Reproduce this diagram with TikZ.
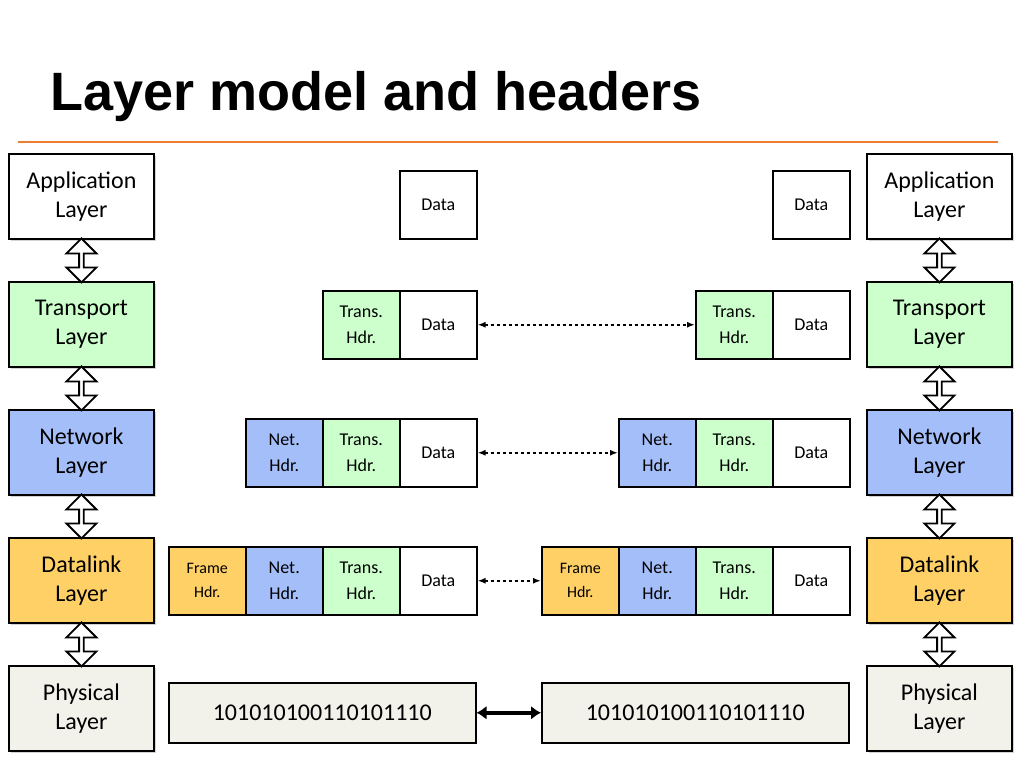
\documentclass[tikz,border=0pt]{standalone}
\usepackage{fontspec}
\setmainfont{Carlito}
\newfontfamily\titlefont{Liberation Sans}
\usetikzlibrary{shapes.arrows,shadows,arrows.meta,calc}
\definecolor{tg}{HTML}{CCFFCC}
\definecolor{nb}{HTML}{A4BEFA}
\definecolor{dy}{HTML}{FFD066}
\definecolor{pg}{HTML}{F2F2EA}
\definecolor{org}{HTML}{ED7D31}
\begin{document}
\begin{tikzpicture}[x=1pt,y=-1pt,
 layer/.style={draw=black,line width=1.8pt,minimum width=145pt,minimum height=85pt,anchor=north west,align=center,font=\fontsize{24}{29}\selectfont,drop shadow={shadow xshift=2pt,shadow yshift=-2pt,opacity=0.35}},
 sb/.style={draw=black,line width=1.5pt,minimum width=77pt,minimum height=68pt,anchor=north west,align=center,font=\fontsize{18}{26}\selectfont,inner sep=0pt},
 bits/.style={draw=black,line width=1.5pt,fill=pg,minimum width=307pt,minimum height=60pt,anchor=north west,font=\fontsize{24}{29}\selectfont},
 da/.style={double arrow,draw=black,line width=1.8pt,fill=white,rotate=90,minimum height=44pt,minimum width=30pt,double arrow head extend=5pt,inner sep=0pt,double arrow tip angle=90},
 dconn/.style={dashed,line width=1.8pt,{Latex[length=8pt]}-{Latex[length=8pt]}}]
\useasboundingbox (0,0) rectangle (1024,768);
\node[anchor=base west,font=\titlefont\bfseries\fontsize{54}{60}\selectfont,inner sep=0pt] (title) at (50,110) {Layer model and headers};
\draw[org,line width=2pt] (18,142) -- (998,142);
% layers
\foreach \s/\x in {L/8,R/866}{
 \node[layer,fill=white] (app\s) at (\x,153) {Application\\Layer};
 \node[layer,fill=tg] (tr\s) at (\x,281) {Transport\\Layer};
 \node[layer,fill=nb] (nw\s) at (\x,409) {Network\\Layer};
 \node[layer,fill=dy] (dl\s) at (\x,537) {Datalink\\Layer};
 \node[layer,fill=pg] (ph\s) at (\x,665) {Physical\\Layer};
 \node[da] (a1\s) at ($(app\s.south)!0.5!(tr\s.north)$) {};
 \node[da] (a2\s) at ($(tr\s.south)!0.5!(nw\s.north)$) {};
 \node[da] (a3\s) at ($(nw\s.south)!0.5!(dl\s.north)$) {};
 \node[da] (a4\s) at ($(dl\s.south)!0.5!(ph\s.north)$) {};
}
% data boxes
\foreach \s/\o in {L/0,R/373}{
 \node[sb] (d1\s) at (399+\o,170) {Data};
 \node[sb,fill=tg] (t2\s) at (322+\o,290) {Trans.\\Hdr.};
 \node[sb] (d2\s) at (399+\o,290) {Data};
 \node[sb,fill=nb] (n3\s) at (245+\o,418) {Net.\\Hdr.};
 \node[sb,fill=tg] (t3\s) at (322+\o,418) {Trans.\\Hdr.};
 \node[sb] (d3\s) at (399+\o,418) {Data};
 \node[sb,fill=dy,font=\fontsize{16}{24}\selectfont] (f4\s) at (168+\o,546) {Frame\\Hdr.};
 \node[sb,fill=nb] (n4\s) at (245+\o,546) {Net.\\Hdr.};
 \node[sb,fill=tg] (t4\s) at (322+\o,546) {Trans.\\Hdr.};
 \node[sb] (d4\s) at (399+\o,546) {Data};
 \node[bits] (b\s) at (168+\o,682) {101010100110101110};
}
\draw[dconn] (d2L.east) -- (t2R.west);
\draw[dconn] (d3L.east) -- (n3R.west);
\draw[dconn] (d4L.east) -- (f4R.west);
\draw[line width=4pt,{Latex[length=10pt,width=14pt]}-{Latex[length=10pt,width=14pt]}] (bL.east) -- (bR.west);
\end{tikzpicture}
\end{document}
